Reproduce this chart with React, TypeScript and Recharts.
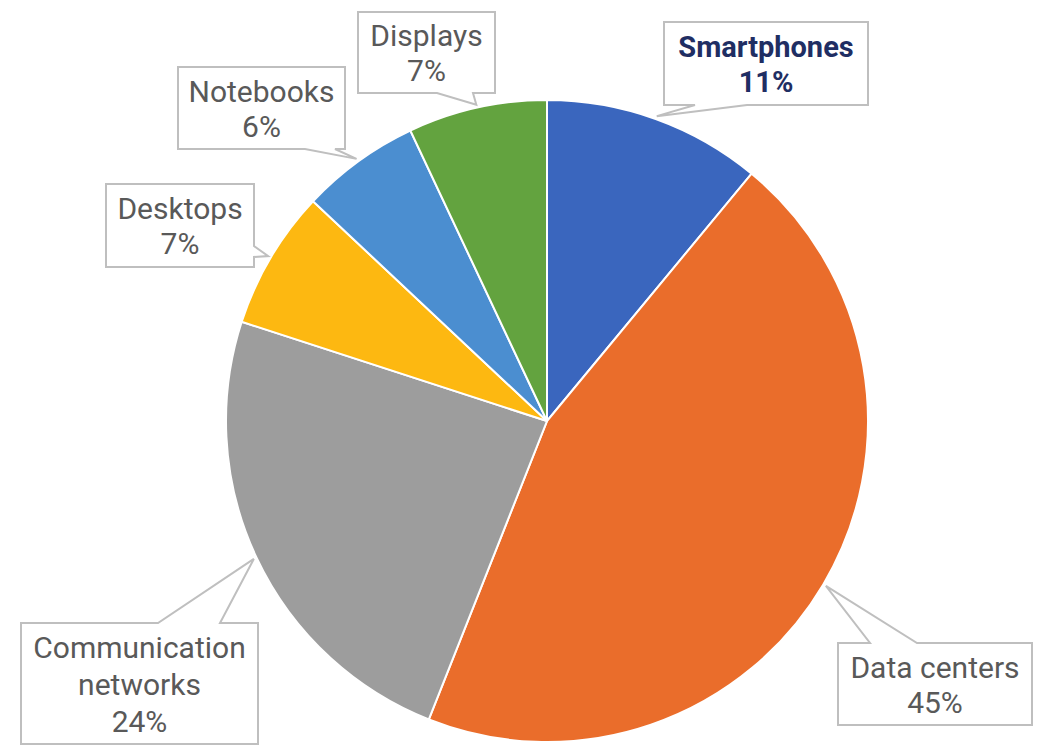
import React from 'react';
import { PieChart, Pie, Cell } from 'recharts';

// Share of electricity use by device category
const categories = ['Smartphones', 'Data centers', 'Communication networks', 'Desktops', 'Notebooks', 'Displays'];
const shares = [11, 45, 24, 7, 6, 7];
const labelLines = [
  ['Smartphones'],
  ['Data centers'],
  ['Communication', 'networks'],
  ['Desktops'],
  ['Notebooks'],
  ['Displays'],
];

const colors = ['#3A66BE', '#EA6D2B', '#9D9D9D', '#FDB811', '#4B8ED0', '#63A33F'];

// callout boxes: position of box and where the pointer leaves it
const callouts = [
  { x: 664, y: 22, w: 204, h: 83, side: 'bottom', b1: 695, b2: 747, bold: true, color: '#1F2E63' },
  { x: 838, y: 643, w: 194, h: 82, side: 'top', b1: 870, b2: 917 },
  { x: 21, y: 623, w: 237, h: 121, side: 'top', b1: 158, b2: 220 },
  { x: 106, y: 184, w: 148, h: 83, side: 'right', b1: 246, b2: 257 },
  { x: 178, y: 67, w: 167, h: 82, side: 'bottom', b1: 305, b2: 335 },
  { x: 358, y: 12, w: 137, h: 81, side: 'bottom', b1: 437, b2: 473 },
];

const data = categories.map((name, i) => ({ name, value: shares[i] }));

const RAD = Math.PI / 180;

const renderLabel = (props: any) => {
  const { cx, cy, midAngle, outerRadius, index, value } = props;
  const c: any = callouts[index];
  const r = outerRadius + 3;
  const tx = cx + r * Math.cos(-midAngle * RAD);
  const ty = cy + r * Math.sin(-midAngle * RAD);
  const { x, y, w, h } = c;
  let pts: number[][];
  if (c.side === 'bottom') {
    pts = [[x, y], [x + w, y], [x + w, y + h], [c.b2, y + h], [tx, ty], [c.b1, y + h], [x, y + h]];
  } else if (c.side === 'top') {
    pts = [[x, y], [c.b1, y], [tx, ty], [c.b2, y], [x + w, y], [x + w, y + h], [x, y + h]];
  } else {
    pts = [[x, y], [x + w, y], [x + w, c.b1], [tx, ty], [x + w, c.b2], [x + w, y + h], [x, y + h]];
  }
  const lines = [...labelLines[index], `${value}%`];
  const lineH = lines.length > 2 ? 37 : 35;
  const capH = 22;
  const first = y + h / 2 - ((lines.length - 1) * lineH) / 2 + capH / 2;
  return (
    <g key={`lbl-${index}`}>
      <polygon
        points={pts.map((p) => p.join(',')).join(' ')}
        fill="#fff"
        stroke="#BFBFBF"
        strokeWidth={2}
      />
      {lines.map((t, k) => (
        <text
          key={k}
          x={x + w / 2}
          y={first + k * lineH}
          textAnchor="middle"
          fontFamily="Roboto, sans-serif"
          fontSize={c.bold ? 29 : 30}
          fontWeight={c.bold ? 700 : 400}
          fill={c.color || '#595959'}
        >
          {t}
        </text>
      ))}
    </g>
  );
};

export default function App() {
  return (
    <div style={{ position: 'absolute', left: 0, top: 0, background: '#fff' }}>
      <PieChart width={1044} height={746} margin={{ top: 0, right: 0, bottom: 0, left: 0 }}>
        <Pie
          data={data}
          dataKey="value"
          nameKey="name"
          cx={547}
          cy={421}
          outerRadius={321}
          startAngle={90}
          endAngle={-270}
          stroke="#fff"
          strokeWidth={2}
          label={renderLabel}
          labelLine={false}
          isAnimationActive={false}
        >
          {data.map((d, i) => (
            <Cell key={d.name} fill={colors[i]} />
          ))}
        </Pie>
      </PieChart>
    </div>
  );
}
